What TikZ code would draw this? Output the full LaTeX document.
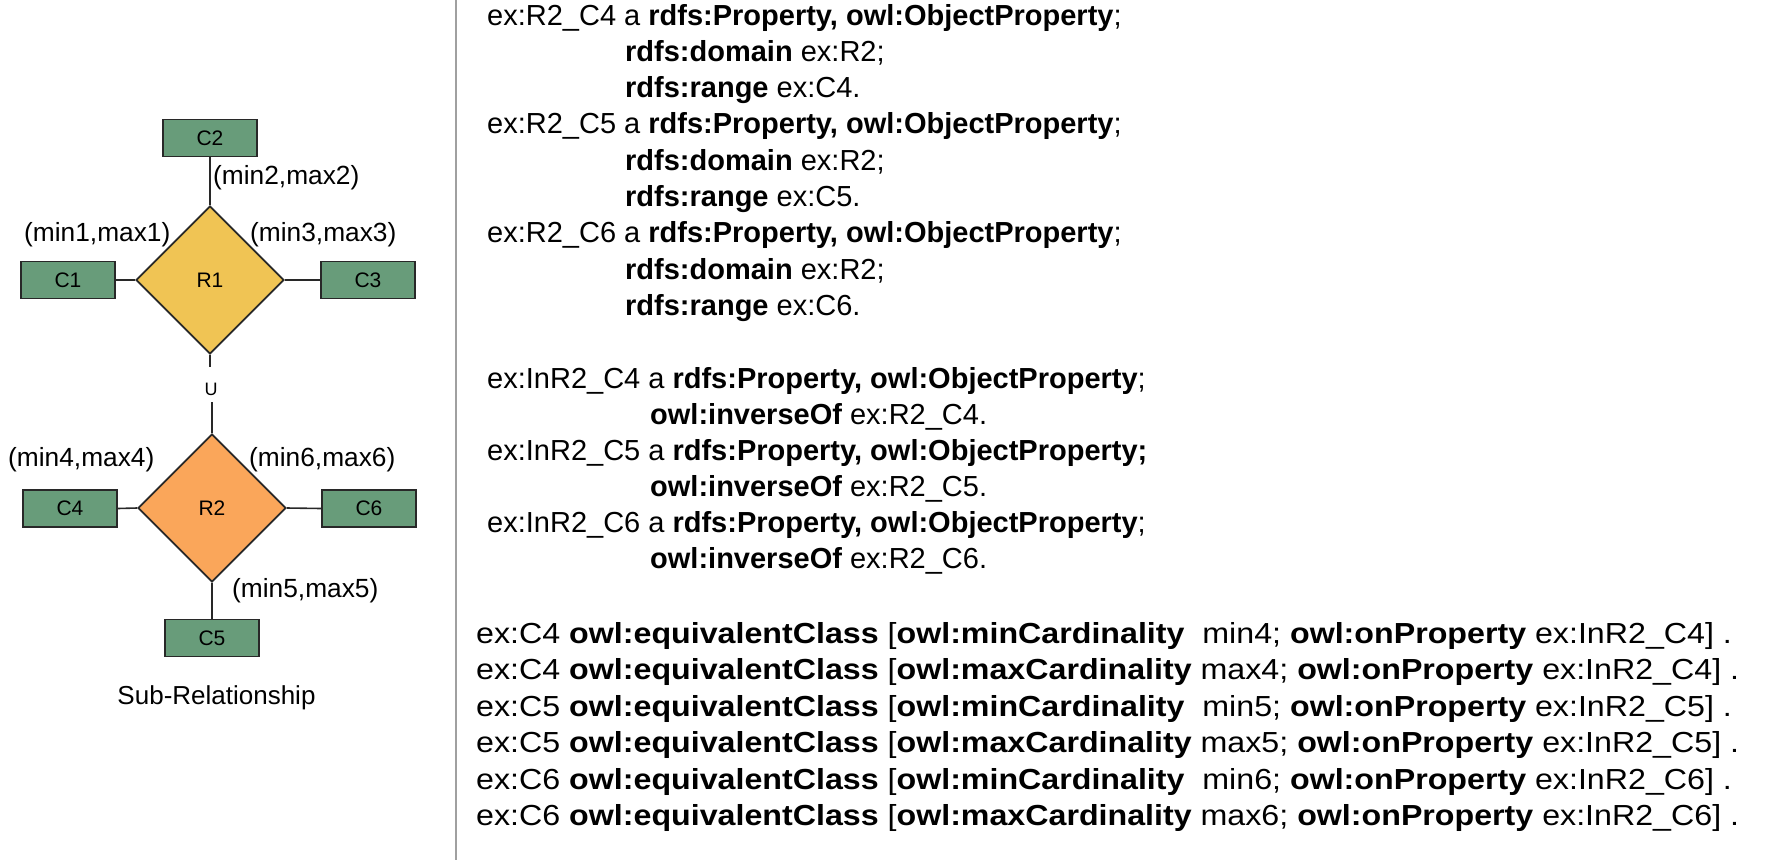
\documentclass[tikz,border=0pt]{standalone}
\usepackage{fontspec}
\setmainfont{Liberation Sans}
\usetikzlibrary{shapes.geometric}
\definecolor{boxgreen}{RGB}{104,156,122}
\definecolor{diayellow}{RGB}{240,196,84}
\definecolor{diaorange}{RGB}{250,166,90}
\definecolor{edgedark}{RGB}{40,40,40}
\definecolor{sepgray}{RGB}{160,160,160}
\tikzset{
  cls/.style={draw=edgedark, line width=1.8pt, fill=boxgreen, minimum width=94pt, minimum height=37pt, inner sep=0pt, font=\fontsize{21}{21}\selectfont},
  rel/.style={diamond, draw=edgedark, line width=1.8pt, minimum width=148pt, minimum height=148pt, inner sep=0pt, shape aspect=1, font=\fontsize{21}{21}\selectfont},
  conn/.style={draw=edgedark, line width=1.6pt},
  card/.style={anchor=west, inner sep=0pt, font=\fontsize{26.3}{26.3}\selectfont},
  toptext/.style={anchor=base west, inner sep=0pt, font=\fontsize{29}{29}\selectfont},
  bottext/.style={anchor=base west, inner sep=0pt, font=\fontsize{29}{29}\selectfont},
}
\newcommand{\bl}[1]{\scalebox{1.11}[1]{#1}}
\begin{document}
\begin{tikzpicture}[x=1pt, y=-1pt]
\useasboundingbox (0,0) rectangle (1786,860);
\fill[white] (0,0) rectangle (1786,860);
% separator
\draw[sepgray, line width=2pt] (456,0) -- (456,860);

% left diagram
\node[rel, fill=diayellow] (R1) at (210,280) {R1};
\node[rel, fill=diaorange] (R2) at (212,508) {R2};
\node[cls] (C2) at (210,138) {C2};
\node[cls] (C1) at (68,280) {C1};
\node[cls] (C3) at (368,280) {C3};
\node[cls] (C4) at (70,508.5) {C4};
\node[cls] (C6) at (369,508.5) {C6};
\node[cls] (C5) at (212,638) {C5};
\node[inner sep=0pt, font=\fontsize{18}{18}\selectfont] (U) at (211,389) {U};
\coordinate (u1) at (210,367);
\coordinate (u2) at (212,402);

\draw[conn] (C2.south) -- (R1.north);
\draw[conn] (C1.east) -- (R1.west);
\draw[conn] (R1.east) -- (C3.west);
\draw[conn] (R1.south) -- (u1);
\draw[conn] (u2) -- (R2.north);
\draw[conn] (C4.east) -- (R2.west);
\draw[conn] (R2.east) -- (C6.west);
\draw[conn] (R2.south) -- (C5.north);

\node[card] (l2) at (213,178) {(min2,max2)};
\node[card] (l1) at (24,235) {(min1,max1)};
\node[card] (l3) at (250,235) {(min3,max3)};
\node[card] (l4) at (8,460) {(min4,max4)};
\node[card] (l6) at (249,460) {(min6,max6)};
\node[card] (l5) at (232,591) {(min5,max5)};
\node[inner sep=0pt, font=\fontsize{26}{26}\selectfont] (cap) at (216.5,698) {Sub-Relationship};

% top block
\node[toptext] (t1) at (487,25) {ex:R2\_C4 a \textbf{rdfs:Property, owl:ObjectProperty};};
\node[toptext] (t2) at (625,61.3) {\textbf{rdfs:domain} ex:R2;};
\node[toptext] (t3) at (625,97.6) {\textbf{rdfs:range} ex:C4.};
\node[toptext] (t4) at (487,133.9) {ex:R2\_C5 a \textbf{rdfs:Property, owl:ObjectProperty};};
\node[toptext] (t5) at (625,170.2) {\textbf{rdfs:domain} ex:R2;};
\node[toptext] (t6) at (625,206.5) {\textbf{rdfs:range} ex:C5.};
\node[toptext] (t7) at (487,242.8) {ex:R2\_C6 a \textbf{rdfs:Property, owl:ObjectProperty};};
\node[toptext] (t8) at (625,279.1) {\textbf{rdfs:domain} ex:R2;};
\node[toptext] (t9) at (625,315.4) {\textbf{rdfs:range} ex:C6.};

% inverse block
\node[toptext] (i1) at (487,388) {ex:InR2\_C4 a \textbf{rdfs:Property, owl:ObjectProperty};};
\node[toptext] (i2) at (650,424) {\textbf{owl:inverseOf} ex:R2\_C4.};
\node[toptext] (i3) at (487,460) {ex:InR2\_C5 a \textbf{rdfs:Property, owl:ObjectProperty;}};
\node[toptext] (i4) at (650,496) {\textbf{owl:inverseOf} ex:R2\_C5.};
\node[toptext] (i5) at (487,532) {ex:InR2\_C6 a \textbf{rdfs:Property, owl:ObjectProperty};};
\node[toptext] (i6) at (650,568) {\textbf{owl:inverseOf} ex:R2\_C6.};

% cardinality block
\node[bottext] (b1) at (476,643) {\bl{ex:C4 \textbf{owl:equivalentClass} [\textbf{owl:minCardinality}\ \ min4; \textbf{owl:onProperty} ex:InR2\_C4] .}};
\node[bottext] (b2) at (476,679.5) {\bl{ex:C4 \textbf{owl:equivalentClass} [\textbf{owl:maxCardinality} max4; \textbf{owl:onProperty} ex:InR2\_C4] .}};
\node[bottext] (b3) at (476,716) {\bl{ex:C5 \textbf{owl:equivalentClass} [\textbf{owl:minCardinality}\ \ min5; \textbf{owl:onProperty} ex:InR2\_C5] .}};
\node[bottext] (b4) at (476,752.5) {\bl{ex:C5 \textbf{owl:equivalentClass} [\textbf{owl:maxCardinality} max5; \textbf{owl:onProperty} ex:InR2\_C5] .}};
\node[bottext] (b5) at (476,789) {\bl{ex:C6 \textbf{owl:equivalentClass} [\textbf{owl:minCardinality}\ \ min6; \textbf{owl:onProperty} ex:InR2\_C6] .}};
\node[bottext] (b6) at (476,825.5) {\bl{ex:C6 \textbf{owl:equivalentClass} [\textbf{owl:maxCardinality} max6; \textbf{owl:onProperty} ex:InR2\_C6] .}};
\end{tikzpicture}
\end{document}
